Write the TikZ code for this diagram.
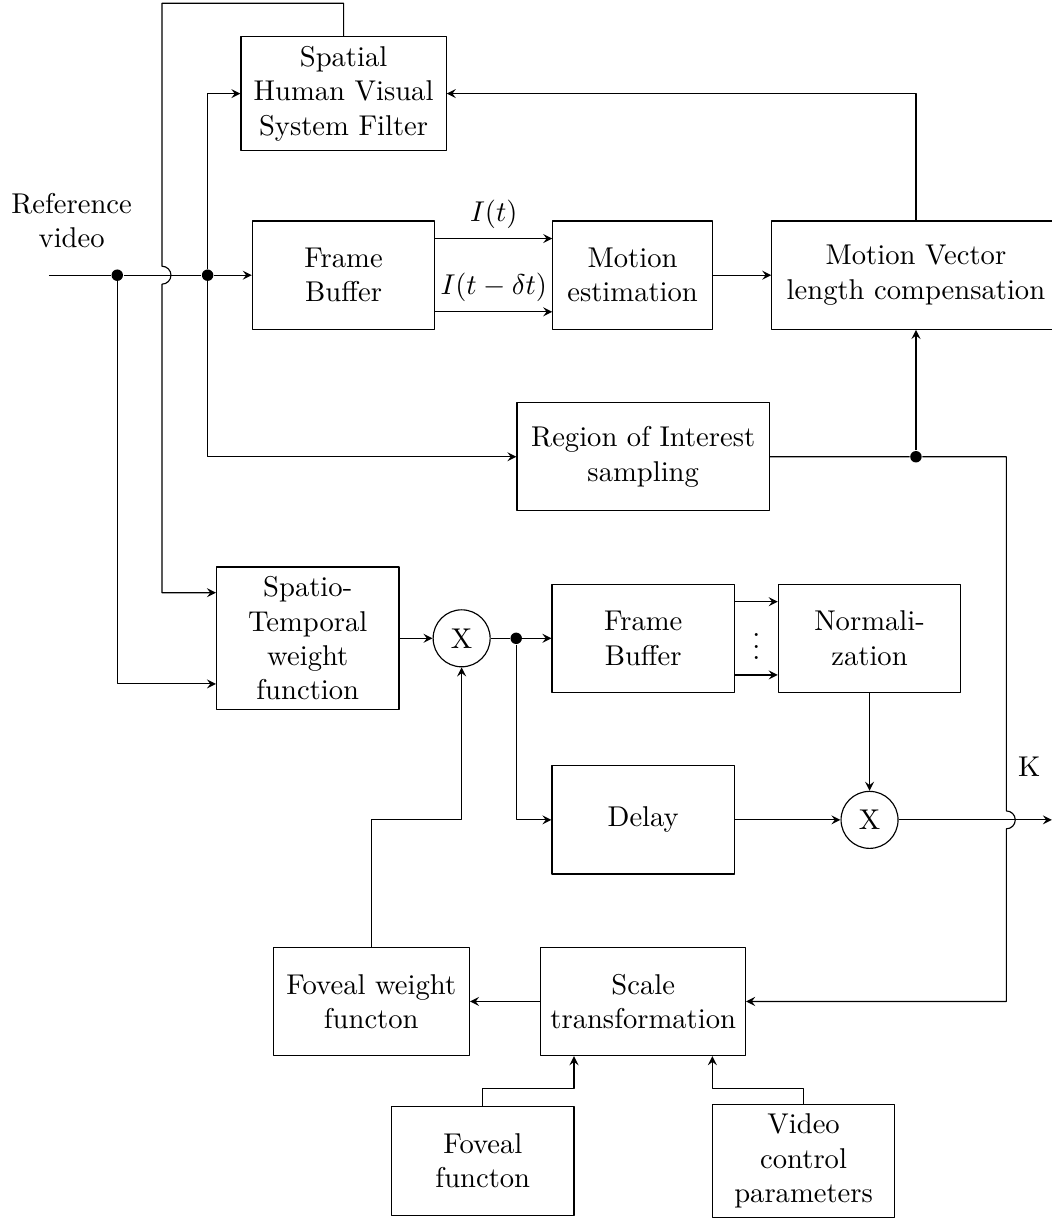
\documentclass[tikz,border=0pt]{standalone}
\usetikzlibrary{positioning}
\begin{document}
\begin{tikzpicture}[>=stealth, line join=round,
	block/.style={draw, rectangle, align=center, minimum width=2.24cm, minimum height=1.33cm},
	mult/.style={draw, circle, minimum size=0.7cm, inner sep=0pt},
	junction/.style={circle, fill, inner sep=0pt, minimum size=4pt}]
	\useasboundingbox (0,0) rectangle (12.92,-14.96);
	% upper chain: filter, buffer, motion estimation
	\node[block, minimum width=2.52cm] (hvs) at (4.22,-1.15) {Spatial\\Human Visual\\System Filter};
	\node[block] (fb1) at (4.22,-3.38) {Frame\\Buffer};
	\node[block, minimum width=1.96cm] (me) at (7.77,-3.38) {Motion\\estimation};
	\node[block, minimum width=3.54cm] (mv) at (11.25,-3.38) {Motion Vector\\length compensation};
	\node[block, minimum width=3.1cm] (roi) at (7.90,-5.61) {Region of Interest\\sampling};
	\node[align=center] (ref) at (0.88,-2.71) {Reference\\video};
	% lower chain: weighting, buffer, normalization
	\node[block] (st) at (3.78,-7.84) {Spatio-\\Temporal\\weight\\function};
	\node[mult] (x1) at (5.67,-7.84) {X};
	\node[block] (fb2) at (7.90,-7.84) {Frame\\Buffer};
	\node[block] (norm) at (10.68,-7.84) {Normali-\\zation};
	\node[block] (delay) at (7.90,-10.07) {Delay};
	\node[mult] (x2) at (10.68,-10.07) {X};
	\node (k) at (12.64,-9.42) {K};
	\node[block, minimum width=2.41cm] (fw) at (4.56,-12.30) {Foveal weight\\functon};
	\node[block] (scale) at (7.90,-12.30) {Scale\\transformation};
	\node[block] (fov) at (5.93,-14.26) {Foveal\\functon};
	\node[block] (vcp) at (9.87,-14.26) {Video\\control\\parameters};
	\node (dots) at (9.29,-7.84) {$\vdots$};
	% junctions
	\coordinate (in) at (0.60,-3.38);
	\node[junction] (ja) at (1.44,-3.38) {};
	\node[junction] (jb) at (2.55,-3.38) {};
	\node[junction] (jc) at (11.25,-5.61) {};
	\node[junction] (jd) at (6.34,-7.84) {};
	\coordinate (jog) at (0,-13.37);
	\coordinate (out) at (12.92,-10.07);
	% connections
	\draw[->] (in) -- (ja) -- (jb) -- (fb1);
	\draw[->] (jb) |- (hvs.west);
	\draw[->] (jb) |- (roi.west);
	\draw[->] (ja) |- ([yshift=-0.56cm]st.west);
	\draw[->] (hvs.north) |- (1.99,-0.04) -- (1.99,-3.27) arc (90:-90:0.11) |- ([yshift=0.56cm]st.west);
	\draw[->] ([yshift=0.45cm]fb1.east) -- node[above] {$I(t)$} ([yshift=0.45cm]me.west);
	\draw[->] ([yshift=-0.45cm]fb1.east) -- node[above] {$I(t-\delta t)$} ([yshift=-0.45cm]me.west);
	\draw[->] (me) -- (mv);
	\draw[->] (mv.north) |- (hvs.east);
	\draw[->] (jc) -- (mv.south);
	\draw[->] (roi.east) -- (jc) -- (12.36,-5.61) -- (12.36,-9.96) arc (90:-90:0.11) |- (scale.east);
	\draw[->] (st) -- (x1);
	\draw (x1) -- (jd);
	\draw[->] (jd) -- (fb2);
	\draw[->] (jd) |- (delay.west);
	\draw[->] ([yshift=0.45cm]fb2.east) -- ([yshift=0.45cm]norm.west);
	\draw[->] ([yshift=-0.45cm]fb2.east) -- ([yshift=-0.45cm]norm.west);
	\draw[->] (norm) -- (x2);
	\draw[->] (delay) -- (x2);
	\draw[->] (x2) -- (out);
	\draw[->] (fw.north) -- (fw.north |- delay.west) -| (x1.south);
	\draw[->] (scale) -- (fw);
	\draw[->] (fov.north) -- (fov.north |- jog) -| ([xshift=-0.85cm]scale.south);
	\draw[->] (vcp.north) -- (vcp.north |- jog) -| ([xshift=0.85cm]scale.south);
\end{tikzpicture}
\end{document}
